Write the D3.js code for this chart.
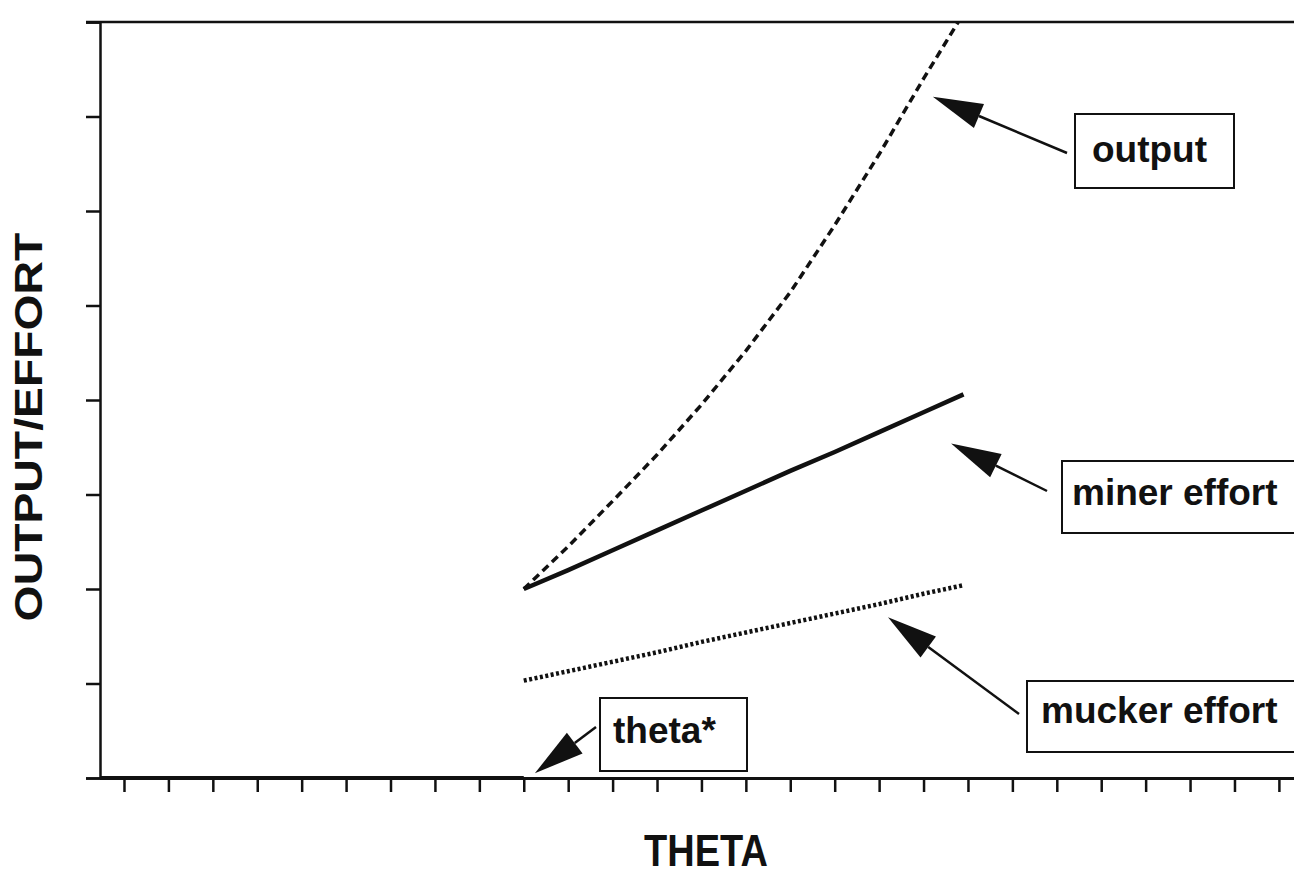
<!DOCTYPE html>
<html>
<head>
<meta charset="utf-8">
<script src="https://cdn.jsdelivr.net/npm/d3@7"></script>
<style>
  body { margin: 0; background: #fff; }
  svg { display: block; font-family: "Liberation Sans", Arial, sans-serif; }
</style>
</head>
<body>
<svg width="1294" height="876"></svg>
<script>
// theta values (x) and series values (y)
var thetaBelow = [-0.54, 9];
var zeroValues = [0, 0];

var thetaOutput = [9, 10, 11, 12, 13, 14, 15, 16, 17, 18, 18.78];
var outputValues = [2.0, 2.45, 2.93, 3.42, 3.95, 4.52, 5.14, 5.85, 6.6, 7.4, 8.0];

var thetaEffort = [9, 10, 11, 12, 13, 14, 15, 16, 17, 18, 18.9];
var minerValues = [2.0, 2.2, 2.41, 2.62, 2.83, 3.04, 3.25, 3.45, 3.66, 3.87, 4.06];
var muckerValues = [1.03, 1.13, 1.23, 1.33, 1.44, 1.54, 1.64, 1.74, 1.84, 1.95, 2.04];

var xTicks = d3.range(0, 27);
var yTicks = d3.range(0, 9);

var annotations = [
    { label: 'output', tip: [18.21, 7.21], tail: [1067, 153], box: [1075, 114, 159, 74], text: [1092, 162] },
    { label: 'miner effort', tip: [18.62, 3.54], tail: [1047, 491], box: [1062, 461, 250, 72], text: [1072, 505] },
    { label: 'mucker effort', tip: [17.2, 1.70], tail: [1019, 714], box: [1027, 681, 290, 71], text: [1041, 723] },
    { label: 'theta*', tip: [9.25, 0.05], tail: [596, 727], box: [600, 698, 147, 73], text: [613, 743] }
];

var svg = d3.select('svg');

var xScale = d3.scaleLinear()
    .domain([-0.54, 26.34])
    .range([100, 1294]);

var yScale = d3.scaleLinear()
    .domain([0, 8])
    .range([778, 22]);

// top frame line
svg.append('line')
    .attr('x1', xScale.range()[0] - 14)
    .attr('x2', xScale.range()[1])
    .attr('y1', yScale(8))
    .attr('y2', yScale(8))
    .attr('stroke', '#111')
    .attr('stroke-width', 2.5);

var yAxis = svg.append('g')
    .attr('transform', 'translate(' + xScale.range()[0] + ',0)')
    .call(d3.axisLeft(yScale).tickValues(yTicks).tickSize(14).tickFormat(''));
yAxis.selectAll('path, line').attr('stroke', '#111').attr('stroke-width', 2.5);

var xAxis = svg.append('g')
    .attr('transform', 'translate(0,' + yScale(0) + ')')
    .call(d3.axisBottom(xScale).tickValues(xTicks).tickSizeInner(14).tickSizeOuter(0).tickFormat(''));
xAxis.select('.domain').attr('stroke', '#111').attr('stroke-width', 3);
xAxis.selectAll('.tick line').attr('stroke', '#111').attr('stroke-width', 2.5).attr('y1', 2);

var line = d3.line()
    .x(function(d) { return xScale(d[0]); })
    .y(function(d) { return yScale(d[1]); });

function pairs(xs, ys) {
    return xs.map(function(x, i) { return [x, ys[i]]; });
}

svg.append('path')
    .datum(pairs(thetaBelow, zeroValues))
    .attr('d', line)
    .attr('fill', 'none')
    .attr('stroke', '#111')
    .attr('stroke-width', 4);

svg.append('path')
    .datum(pairs(thetaOutput, outputValues))
    .attr('d', line)
    .attr('fill', 'none')
    .attr('stroke', '#111')
    .attr('stroke-width', 3.5)
    .attr('stroke-dasharray', '8,5');

svg.append('path')
    .datum(pairs(thetaEffort, minerValues))
    .attr('d', line)
    .attr('fill', 'none')
    .attr('stroke', '#111')
    .attr('stroke-width', 4.5);

svg.append('path')
    .datum(pairs(thetaEffort, muckerValues))
    .attr('d', line)
    .attr('fill', 'none')
    .attr('stroke', '#111')
    .attr('stroke-width', 4.5)
    .attr('stroke-dasharray', '3,2.5');

// labelled arrows
var ann = svg.selectAll('g.ann')
    .data(annotations)
    .enter().append('g')
    .attr('class', 'ann');

ann.append('rect')
    .attr('x', function(d) { return d.box[0]; })
    .attr('y', function(d) { return d.box[1]; })
    .attr('width', function(d) { return d.box[2]; })
    .attr('height', function(d) { return d.box[3]; })
    .attr('fill', '#fff')
    .attr('stroke', '#111')
    .attr('stroke-width', 2);

ann.append('text')
    .attr('x', function(d) { return d.text[0]; })
    .attr('y', function(d) { return d.text[1]; })
    .attr('font-size', 37)
    .attr('font-weight', 'bold')
    .attr('fill', '#111')
    .text(function(d) { return d.label; });

ann.each(function(d) {
    var g = d3.select(this);
    var tx = xScale(d.tip[0]), ty = yScale(d.tip[1]);
    var dx = d.tail[0] - tx, dy = d.tail[1] - ty;
    var len = Math.sqrt(dx * dx + dy * dy);
    var ux = dx / len, uy = dy / len;
    var bx = tx + ux * 50, by = ty + uy * 50;
    g.append('line')
        .attr('x1', bx).attr('y1', by)
        .attr('x2', d.tail[0]).attr('y2', d.tail[1])
        .attr('stroke', '#111')
        .attr('stroke-width', 2.5);
    g.append('polygon')
        .attr('points', [[tx, ty], [bx - uy * 13, by + ux * 13], [bx + uy * 13, by - ux * 13]].join(' '))
        .attr('fill', '#111');
});

// axis titles
svg.append('text')
    .attr('transform', 'translate(706,866) scale(1,1.15)')
    .attr('text-anchor', 'middle')
    .attr('font-size', 38)
    .attr('font-weight', 'bold')
    .attr('fill', '#111')
    .text('THETA');

svg.append('text')
    .attr('transform', 'translate(42,427) scale(1.0,1.22) rotate(-90)')
    .attr('text-anchor', 'middle')
    .attr('font-size', 38)
    .attr('font-weight', 'bold')
    .attr('fill', '#111')
    .text('OUTPUT/EFFORT');
</script>
</body>
</html>
